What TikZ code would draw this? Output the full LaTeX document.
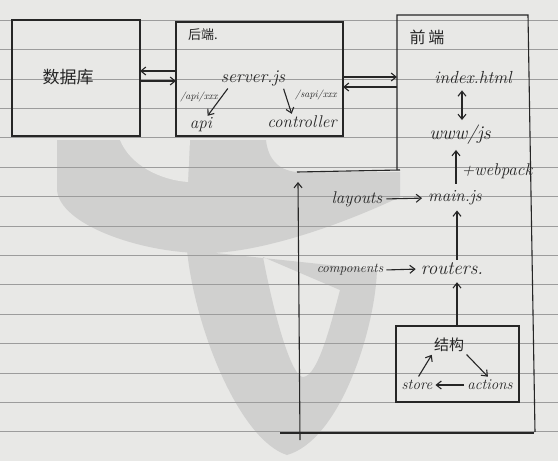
\documentclass[tikz,border=0pt]{standalone}
\usepackage{fontspec}
\newfontfamily\cjk{Noto Sans CJK SC}
\usetikzlibrary{arrows.meta}
\definecolor{paper}{HTML}{E8E8E6}
\definecolor{rulec}{HTML}{9C9C9C}
\definecolor{ink}{HTML}{262626}
\definecolor{wm}{HTML}{D0D0CF}
\begin{document}
\begin{tikzpicture}[x=1pt,y=-1pt,
  inkline/.style={draw=ink, line width=1.1pt},
  box/.style={inkline, rectangle, inner sep=0pt, outer sep=0pt},
  arr/.style={inkline, -{Straight Barb[length=5pt,width=8pt]}},
  arrtwo/.style={inkline, {Straight Barb[length=5pt,width=8pt]}-{Straight Barb[length=5pt,width=8pt]}},
  lbl/.style={text=ink, inner sep=1pt, font=\fontsize{#1}{#1}\selectfont\itshape},
  lbl/.default=14,
  zh/.style={text=ink, inner sep=1pt, font=\fontsize{#1}{#1}\selectfont\cjk},
  zh/.default=16,
]
\useasboundingbox (0,0) rectangle (558,461);
\fill[paper] (0,0) rectangle (558,461);
% faint watermark
\fill[wm] (57,140) -- (266,140) .. controls (268,160) and (280,172) .. (300,172) -- (400,172) -- (400,197)
  .. controls (330,230) and (250,255) .. (200,253) .. controls (140,252) and (60,225) .. (57,190) -- cycle;
\fill[paper] (120,140) .. controls (130,165) and (160,180) .. (188,182) -- (190,140) -- cycle;
\fill[wm, even odd rule] (187,250) .. controls (195,330) and (240,440) .. (287,455)
  .. controls (340,440) and (375,330) .. (377,270) -- cycle
  (263,257) .. controls (275,320) and (292,377) .. (303,377)
  .. controls (318,377) and (332,320) .. (340,290) -- cycle;
% ruled lines
\foreach \k in {0,...,14}
  \draw[rulec, line width=0.6pt] (0,{20+29.4*\k}) -- (558,{20+29.4*\k});

% boxes
\node[box, minimum width=128pt, minimum height=116pt] (b1) at (76,78) {};
\node[box, minimum width=167pt, minimum height=114pt] (b2) at (259.5,79) {};
\node[inner sep=0pt, outer sep=0pt, minimum width=131pt, minimum height=155pt] (b3) at (462.5,92.5) {};
\draw[inkline] (b3.south west) -- (b3.north west) -- (b3.north east) -- (535,432);
\node[box, minimum width=123pt, minimum height=76pt] (b4) at (457.5,364) {};

% frame lines of the frontend area
\coordinate (lL) at (297,172);
\coordinate (lR) at (400,170);
\draw[inkline] (lL) -- (lR);
\coordinate (fb) at (300,440);
\coordinate (ft) at (298,182);
\draw[arr] (fb) -- (ft);
\coordinate (bL) at (280,433);
\coordinate (bR) at (534,433);
\draw[inkline] (bL) -- (bR);

% texts
\node[zh=17] (db) at (68,77) {数据库};
\node[zh=13] (be) at (203,35) {后端.};
\node[lbl=18] (server) at (253,78) {server.js};
\node[lbl=10] (apil) at (199,97) {/api/xxx};
\node[lbl=17] (api) at (201,125) {api};
\node[lbl=10] (sapil) at (316,95) {/sapi/xxx};
\node[lbl=17] (ctrl) at (302,122) {controller};
\node[zh=16] (fe) at (427,37) {前\,端};
\node[lbl=17.5] (index) at (473,78) {index.html};
\node[lbl=19.5] (www) at (460,135) {www/js};
\node[lbl=17] (webpack) at (497,171) {+webpack};
\node[lbl=17] (layouts) at (357,199) {layouts};
\node[lbl=17] (main) at (455,198) {main.js};
\node[lbl=13.5] (comp) at (350,270) {components};
\node[lbl=19] (routers) at (452,269) {routers.};
\node[zh=15] (jg) at (449,345) {结构};
\node[lbl=15] (store) at (417,385) {store};
\node[lbl=15] (actions) at (490,385) {actions};

% connectors
\draw[arr] (b2.west |- 0,71) -- (b1.east |- 0,71);
\draw[arr] (b1.east |- 0,81) -- (b2.west |- 0,81);
\draw[arr] (b2.east |- 0,77) -- (b3.west |- 0,77);
\draw[arr] (b3.west |- 0,87) -- (b2.east |- 0,87);
\draw[arr, shorten <=2pt, shorten >=1pt] ([xshift=-24pt]server.south) -- ([xshift=6pt]api.north);
\draw[arr, shorten <=2pt, shorten >=1pt] ([xshift=30pt]server.south) -- ([xshift=-10pt]ctrl.north);
\draw[arrtwo, shorten <=5pt, shorten >=4pt] (462,0 |- index.south) -- (462,0 |- www.north);
\draw[arr, shorten <=6pt, shorten >=4pt] (456,0 |- main.north) -- (456,0 |- www.south);
\draw[arr, shorten <=3pt, shorten >=5pt] (layouts.east) -- (main.west);
\draw[arr, shorten <=2pt, shorten >=4pt] (457,0 |- routers.north) -- (457,0 |- main.south);
\draw[arr, shorten <=2pt, shorten >=4pt] (comp.east) -- (routers.west);
\draw[arr, shorten >=6pt] (457,0 |- b4.north) -- (457,0 |- routers.south);
\draw[arr, shorten <=3pt, shorten >=2pt] (store.north) -- (jg.south west);
\draw[arr, shorten <=2pt, shorten >=3pt] (jg.south east) -- (actions.north);
\draw[arr, shorten <=2pt, shorten >=2pt] (actions.west) -- (store.east);
\end{tikzpicture}
\end{document}
